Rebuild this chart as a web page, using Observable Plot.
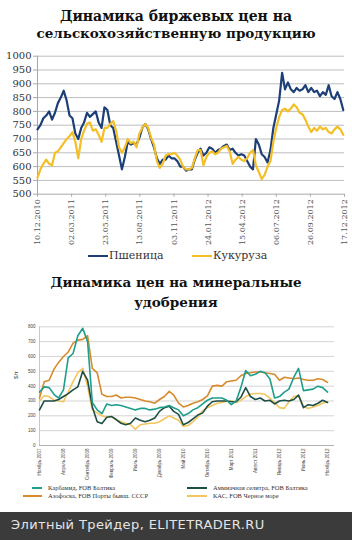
<!DOCTYPE html>
<html><head><meta charset="utf-8">
<script src="https://cdn.jsdelivr.net/npm/d3@7"></script>
<script src="https://cdn.jsdelivr.net/npm/@observablehq/plot@0.6"></script>
<style>
html,body{margin:0;padding:0;background:#fff;}
#page{position:relative;width:352px;height:540px;overflow:hidden;background:#fff;}
.abs{position:absolute;white-space:nowrap;}
.title{position:absolute;left:0;width:352px;text-align:center;font-family:"DejaVu Serif",serif;font-weight:bold;color:#111;white-space:nowrap;line-height:1;}
.sw{position:absolute;height:0;}
</style></head><body><div id="page"></div>
<script>
// ---------- Chart 1: exchange prices (weekly, from 10.12.2010) ----------
const title1 = ["Динамика биржевых цен на", "сельскохозяйственную продукцию"];
const start1 = "2010-12-10";
const stepDays1 = 7;
const wheat = [735,750,775,785,800,770,795,830,850,875,
 840,785,775,720,700,740,760,795,780,790,
 800,760,740,815,805,750,740,690,640,590,
 635,690,680,685,680,705,740,755,735,700,
 670,630,610,625,625,640,630,630,620,600,
 600,585,590,590,625,650,665,640,650,670,
 665,650,660,665,675,680,660,665,650,640,
 645,640,620,600,590,700,680,645,635,615,
 660,740,790,840,940,880,905,880,870,885,
 875,880,895,870,885,870,875,855,870,860,
 895,855,845,870,845,805];
const corn = [560,590,610,625,610,605,650,655,670,685,
 700,710,725,690,630,700,730,755,760,730,
 735,715,690,740,740,755,765,730,670,650,
 670,700,685,690,670,720,740,755,740,705,
 680,620,595,610,640,645,645,650,640,625,
 600,590,590,595,630,660,660,605,635,650,
 655,645,650,665,670,675,655,610,625,635,
 625,620,630,650,660,605,580,555,570,600,
 620,690,740,780,805,810,800,810,825,815,
 795,790,770,745,725,740,730,745,735,740,
 725,720,735,745,735,715];
const xTicks1 = ["10.12.2010","02.03.2011","23.05.2011","13.08.2011","03.11.2011","24.01.2012","15.04.2012","06.07.2012","26.09.2012","17.12.2012"];
const yTicks1 = [500,550,600,650,700,750,800,850,900,950,1000];
const series1 = ["Пшеница", "Кукуруза"];
const colors1 = ["#1d3f77", "#f4bf26"];

// ---------- Chart 2: fertilizer prices (monthly, from Nov 2007) ----------
const title2 = ["Динамика цен на минеральные", "удобрения"];
const start2 = "2007-11-01";
const karbamid = [360,395,390,345,320,375,590,620,740,790,700,290,240,215,280,270,275,270,260,250,240,250,250,240,245,255,260,270,255,240,
 200,215,240,255,280,305,320,320,320,305,275,300,390,505,470,480,500,490,450,320,330,360,380,460,520,370,375,380,400,390,360];
const selitra = [240,300,300,300,310,330,350,375,395,500,440,260,160,148,190,195,175,150,140,150,185,170,160,170,185,230,255,265,230,210,
 140,155,180,205,220,265,295,300,300,300,295,295,325,390,330,310,320,300,305,280,300,305,300,310,340,255,275,270,285,305,290];
const azofoska = [320,430,440,515,560,600,630,690,710,715,740,520,490,345,330,330,340,320,325,325,320,310,300,295,285,310,330,365,340,285,
 260,270,285,295,310,335,400,405,400,430,435,440,470,485,490,495,495,490,485,480,440,460,455,450,455,445,440,440,450,445,425];
const kas = [300,335,330,305,300,295,360,430,490,520,400,240,220,200,190,195,175,160,150,140,110,140,145,150,150,160,180,200,185,170,
 130,135,160,190,235,255,270,285,290,300,300,290,305,330,345,350,350,345,320,290,255,250,295,330,335,265,250,260,270,285,295];
const xTickDates2 = ["2007-11-01","2008-04-01","2008-09-01","2009-02-01","2009-07-01","2009-12-01","2010-05-01","2010-10-01","2011-03-01","2011-08-01","2012-01-01","2012-06-01","2012-11-01"];
const xTickLabels2 = ["Ноябрь 2007","Апрель 2008","Сентябрь 2008","Февраль 2009","Июль 2009","Декабрь 2009","Май 2010","Октябрь 2010","Март 2011","Август 2011","Январь 2012","Июнь 2012","Ноябрь 2012"];
const yTicks2 = [0,100,200,300,400,500,600,700,800];
const yLabel2 = "$/т";
const series2 = ["Карбамид, FOB Балтика", "Аммиачная селитра, FOB Балтика", "Азофоска, FOB Порты бывш. СССР", "КАС, FOB Черное море"];
const colors2 = ["#1f9e8c", "#1d4f46", "#d88a2c", "#f3c55e"];
const footerText = "Элитный Трейдер, ELITETRADER.RU";

// ---------- build ----------
const page = document.getElementById("page");
function el(tag, cls, css, text) {
  const e = document.createElement(tag);
  if (cls) e.className = cls;
  Object.assign(e.style, css);
  if (text != null) e.textContent = text;
  page.appendChild(e);
  return e;
}
const parseDMY = d3.utcParse("%d.%m.%Y");
const parseISO = d3.utcParse("%Y-%m-%d");

// Chart 1 data
const s1 = parseISO(start1);
const rows1 = [];
wheat.forEach((v, i) => rows1.push({date: d3.utcDay.offset(s1, i * stepDays1), value: v, series: series1[0]}));
corn.forEach((v, i) => rows1.push({date: d3.utcDay.offset(s1, i * stepDays1), value: v, series: series1[1]}));
const tickDates1 = xTicks1.map(parseDMY);

const p1 = Plot.plot({
  width: 352, height: 250,
  marginTop: 55.7, marginBottom: 56.3, marginLeft: 37, marginRight: 8,
  style: {background: "transparent", fontFamily: "DejaVu Serif, serif", color: "#333"},
  x: {type: "utc", domain: [tickDates1[0], tickDates1[tickDates1.length - 1]]},
  y: {domain: [500, 1000]},
  marks: [
    Plot.gridY(yTicks1.slice(1), {stroke: "#bdbdbd", strokeOpacity: 1, strokeWidth: 1}),
    Plot.ruleY([500], {stroke: "#a8a8a8"}),
    Plot.ruleX([tickDates1[0]], {stroke: "#a8a8a8"}),
    Plot.axisY(yTicks1, {tickSize: 4, tickPadding: 2, fontSize: 10, stroke: "#a8a8a8", fill: "#333", label: null, tickFormat: d3.format("d")}),
    Plot.axisX(tickDates1, {tickSize: 3, tickPadding: 2, tickRotate: -90, fontSize: 8, stroke: "#a8a8a8", fill: "#555", label: null, tickFormat: d3.utcFormat("%d.%m.%Y")}),
    Plot.line(rows1.filter(d => d.series === series1[0]), {x: "date", y: "value", stroke: colors1[0], strokeWidth: 2.2}),
    Plot.line(rows1.filter(d => d.series === series1[1]), {x: "date", y: "value", stroke: colors1[1], strokeWidth: 2.2})
  ]
});
p1.style.position = "absolute"; p1.style.left = "0px"; p1.style.top = "0px";
page.appendChild(p1);

el("div", "title", {top: "9px", fontSize: "14px"}, title1[0]);
el("div", "title", {top: "27px", fontSize: "13.5px"}, title1[1]);

// legend 1
const leg1 = [{x: 88, tx: 109}, {x: 192, tx: 213}];
series1.forEach((s, i) => {
  el("div", "sw", {left: leg1[i].x + "px", top: "255px", width: "20px", borderTop: "2.5px solid " + colors1[i]});
  el("div", "abs", {left: leg1[i].tx + "px", top: "249px", fontFamily: "DejaVu Serif, serif", fontSize: "11px", color: "#333"}, s);
});

// Chart 2
el("div", "title", {top: "276px", fontSize: "13.5px"}, title2[0]);
el("div", "title", {top: "296px", fontSize: "13.5px"}, title2[1]);

const s2 = parseISO(start2);
const data2 = [karbamid, selitra, azofoska, kas];
const tickDates2 = xTickDates2.map(parseISO);
const labelMap2 = new Map(tickDates2.map((d, i) => [+d, xTickLabels2[i]]));
const drawOrder = [3, 2, 1, 0];
const p2 = Plot.plot({
  width: 352, height: 175,
  marginTop: 11.3, marginBottom: 45, marginLeft: 39, marginRight: 18,
  style: {background: "transparent", fontFamily: "Liberation Sans, Arial, sans-serif", color: "#444"},
  x: {type: "utc", domain: [tickDates2[0], parseISO("2012-12-15")]},
  y: {domain: [0, 800]},
  marks: [
    Plot.gridY(yTicks2.slice(1), {stroke: "#d4d4d4", strokeOpacity: 1}),
    Plot.ruleY([0], {stroke: "#b0b0b0"}),
    Plot.ruleX([tickDates2[0]], {stroke: "#c8c8c8"}),
    Plot.axisY(yTicks2, {tickSize: 0, tickPadding: 4, fontSize: 4.5, fill: "#444", label: null}),
    Plot.axisX(tickDates2, {tickSize: 0, tickPadding: 3, tickRotate: -90, fontSize: 4.5, fill: "#444", label: null, tickFormat: d => labelMap2.get(+d)}),
    ...drawOrder.map(k => Plot.line(data2[k].map((v, i) => ({date: d3.utcMonth.offset(s2, i), value: v})), {x: "date", y: "value", stroke: colors2[k], strokeWidth: 1.6}))
  ]
});
p2.style.position = "absolute"; p2.style.left = "0px"; p2.style.top = "315px";
page.appendChild(p2);

el("div", "abs", {left: "12px", top: "372px", fontFamily: "Liberation Sans, sans-serif", fontSize: "6px", color: "#444", transform: "rotate(-90deg)"}, yLabel2);

// legend 2
const leg2 = [{x: 32, w: 10, tx: 48, y: 488}, {x: 187, w: 20, tx: 213, y: 488}, {x: 23, w: 19, tx: 48, y: 496}, {x: 187, w: 20, tx: 213, y: 496}];
series2.forEach((s, i) => {
  const L = leg2[i];
  el("div", "sw", {left: L.x + "px", top: (L.y - 1) + "px", width: L.w + "px", borderTop: "2.5px solid " + colors2[i]});
  el("div", "abs", {left: L.tx + "px", top: (L.y - 4.5) + "px", fontFamily: "Liberation Serif, serif", fontSize: "6.5px", lineHeight: "8px", color: "#333"}, s);
});

// footer
el("div", "abs", {left: "0px", top: "512px", width: "352px", height: "28px", background: "#3b3b3b"});
el("div", "abs", {left: "11px", top: "517px", fontFamily: "DejaVu Sans, sans-serif", fontSize: "13px", letterSpacing: "0.4px", color: "#e4e4e4"}, footerText);
</script></body></html>
